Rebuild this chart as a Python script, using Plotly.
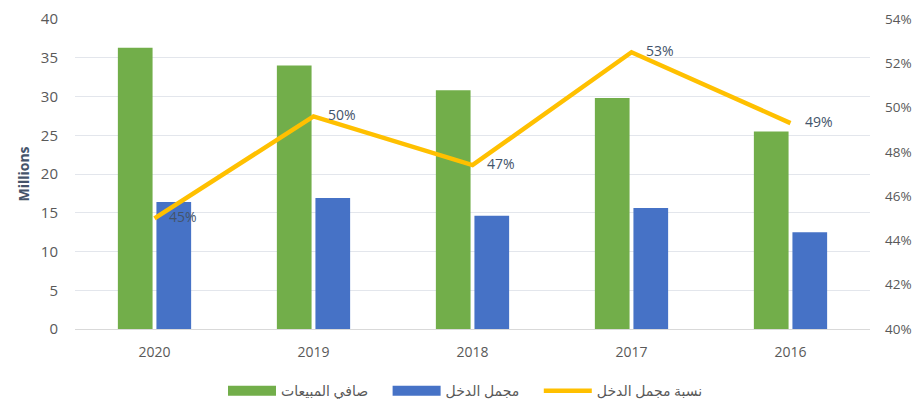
import plotly.graph_objects as go

# data
years = ['2020', '2019', '2018', '2017', '2016']
net_sales = [36.3, 34.0, 30.8, 29.8, 25.5]        # millions
gross_income = [16.4, 16.9, 14.6, 15.6, 12.5]     # millions
gross_margin = [0.450, 0.496, 0.474, 0.525, 0.493]
margin_labels = ['45%', '50%', '47%', '53%', '49%']

font_family = 'Open Sans, DejaVu Sans, sans-serif'
tick_color = '#595959'
green = '#72AE4A'
blue = '#4672C6'
yellow = '#FFC000'

fig = go.Figure()

fig.add_trace(go.Bar(
    x=years, y=net_sales, name='صافي المبيعات', showlegend=False,
    marker=dict(color=green, line=dict(width=0)),
))
fig.add_trace(go.Bar(
    x=years, y=gross_income, name='مجمل الدخل', showlegend=False,
    marker=dict(color=blue, line=dict(width=0)),
))
fig.add_trace(go.Scatter(
    x=years, y=gross_margin, name='نسبة مجمل الدخل',
    yaxis='y2', mode='lines+text', showlegend=False,
    line=dict(color=yellow, width=4.5),
    text=['    ' + t for t in margin_labels], textposition='middle right',
    textfont=dict(size=14, color='#44546A'),
))

# legend entries drawn as wide swatches like the original
pad = '\u00a0' * 4
for name, col, w in [('صافي المبيعات', green, 11), ('مجمل الدخل', blue, 11),
                     ('نسبة مجمل الدخل', yellow, 4.5)]:
    fig.add_trace(go.Scatter(x=[None], y=[None], name=name + pad, mode='lines',
                             line=dict(color=col, width=w)))

# the page adds an 8px body margin, so the figure is shifted by that amount
fig.update_layout(
    width=912, height=397,
    margin=dict(l=67, r=50, t=11, b=76, autoexpand=False),
    paper_bgcolor='white', plot_bgcolor='white',
    font=dict(family=font_family, size=13, color=tick_color),
    barmode='group', bargap=0.515, bargroupgap=0.1,
    showlegend=True,
    legend=dict(orientation='h', x=0.5, xanchor='center',
                yref='container', y=0.035, yanchor='middle',
                font=dict(size=14, color=tick_color), traceorder='normal',
                itemwidth=48),
    xaxis=dict(type='category', showgrid=False, showline=True, automargin=False,
               linecolor='#D9D9D9', ticks='', ticklabelstandoff=10,
               tickfont=dict(size=14, color=tick_color)),
    yaxis=dict(range=[0, 40], dtick=5, showgrid=True, gridcolor='#E3E6EC',
               zeroline=False, ticks='', automargin=False, ticklabelstandoff=16,
               tickfont=dict(size=15, color=tick_color),
               title=dict(text='<b>Millions</b>', font=dict(size=14, color='#44546A'),
                          standoff=7)),
    yaxis2=dict(range=[0.40, 0.54], dtick=0.02, tickformat='.0%', overlaying='y',
                side='right', showgrid=False, zeroline=False, ticks='', automargin=False,
                ticklabelstandoff=14, tickfont=dict(size=13.5, color=tick_color)),
)

fig.write_html("out.html")
